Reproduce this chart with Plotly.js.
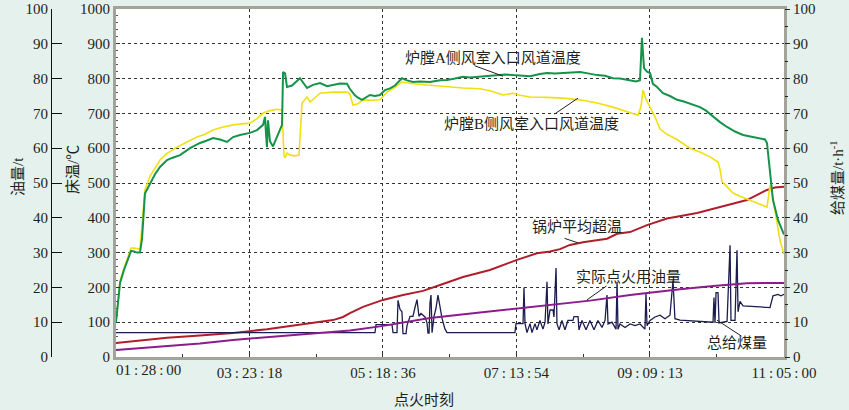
<!DOCTYPE html>
<html>
<head>
<meta charset="utf-8">
<script src="https://cdn.plot.ly/plotly-3.0.1.min.js"></script>
<style>
  html, body { margin: 0; padding: 0; background: #e4f1ed; }
  #chart { width: 849px; height: 410px; }
</style>
</head>
<body>
<div id="chart"></div>
<script>
// time axis: minutes elapsed since the first tick (01:28:00)
const tickLabels = ['01:28:00', '03:23:18', '05:18:36', '07:13:54', '09:09:13', '11:05:00'];

// 炉膛A侧风室入口风道温度 (°C)
const aTime = [0, 1.7, 3.5, 6.9, 10.4, 13.0, 15.5, 18.1, 20.7, 22.5, 25.0, 29.4, 33.7, 38.0, 44.1, 48.4,
    55.3, 63.9, 72.6, 78.6, 83.8, 89.8, 95.9, 101.1, 107.1, 115.7, 121.8, 127.0, 128.7, 129.6, 130.4,
    131.3, 133.0, 135.6, 139.1, 143.4, 144.3, 146.0, 147.7, 152.0, 158.9, 161.5, 165.0, 170.2, 176.2,
    182.3, 187.4, 193.5, 199.5, 202.1, 206.4, 209.0, 212.5, 215.9, 219.4, 223.7, 228.0, 232.4, 236.7,
    241.0, 247.0, 251.4, 256.5, 262.6, 271.2, 279.9, 285.9, 292.8, 299.7, 305.8, 314.4, 323.0, 329.1,
    336.0, 342.9, 349.0, 357.6, 366.2, 372.3, 379.2, 386.1, 392.1, 400.8, 407.7, 415.5, 422.4, 429.3,
    435.3, 444.0, 449.2, 452.6, 454.3, 456.1, 458.7, 461.3, 463.8, 467.3, 472.5, 478.5, 484.6, 489.8,
    495.8, 504.4, 509.6, 515.7, 521.7, 527.8, 534.7, 541.6, 549.4, 556.3, 560.6, 562.3, 564.9, 567.5,
    571.8, 577];
const aTemp = [100, 160, 213, 250, 280, 305, 303, 300, 300, 340, 470, 500, 525, 546, 566, 572,
    580, 600, 615, 622, 629, 625, 618, 632, 638, 644, 652, 667, 690, 640, 603,
    680, 620, 605, 635, 667, 819, 815, 776, 780, 801, 790, 773, 782, 787,
    778, 781, 786, 785, 770, 752, 745, 739, 745, 753, 750, 753, 767, 772,
    780, 801, 795, 790, 792, 790, 795, 796, 800, 805, 803, 805, 808, 810,
    812, 810, 808, 807, 813, 816, 815, 816, 818, 819, 815, 810, 808, 801,
    800, 796, 792, 795, 917, 830, 820, 816, 785, 776, 758, 750, 739, 735,
    728, 718, 708, 690, 675, 661, 648, 638, 633, 629, 625, 615, 537, 451,
    394, 352];

// 炉膛B侧风室入口风道温度 (°C)
const bTime = [0, 1.7, 3.5, 6.9, 10.4, 13.0, 15.5, 18.1, 20.7, 22.5, 25.0, 29.4, 33.7, 38.0, 44.1,
    52.7, 61.3, 70.0, 76.9, 83.8, 91.6, 101.1, 108.8, 115.7, 121.8, 127.0, 133.0, 139.1, 143.4,
    145.1, 146.0, 147.7, 150.3, 154.6, 158.1, 159.8, 160.7, 165.0, 167.6, 171.9, 176.2, 187.4, 199.5,
    202.1, 204.7, 209.0, 213.4, 221.1, 228.0, 234.1, 241.0, 247.0, 256.5, 271.2, 285.9, 299.7, 314.4,
    323.0, 334.3, 342.9, 349.0, 357.6, 372.3, 386.1, 400.8, 415.5, 429.3, 435.3, 444.0, 450.9, 453.5,
    455.2, 457.8, 461.3, 465.6, 469.9, 475.9, 484.6, 495.8, 504.4, 513.1, 520.0, 521.7, 523.4, 527.8,
    532.9, 539.0, 547.6, 556.3, 562.3, 564.0, 564.9, 566.6, 569.2, 571.8, 573.5, 577];
const bTemp = [100, 170, 220, 255, 290, 313, 313, 312, 310, 380, 480, 520, 545, 566, 585,
    603, 618, 632, 640, 652, 660, 667, 670, 672, 685, 701, 708, 712, 710,
    580, 572, 586, 580, 578, 580, 680, 730, 747, 733, 745, 758, 761, 761,
    755, 724, 728, 739, 738, 739, 761, 775, 790, 785, 781, 776, 773, 771,
    765, 753, 758, 752, 747, 746, 744, 739, 730, 718, 712, 704, 695, 720,
    767, 740, 718, 690, 655, 640, 625, 600, 589, 575, 560, 540, 505, 490,
    471, 462, 451, 440, 431, 470, 494, 470, 414, 370, 336, 295];

// 锅炉平均超温 (°C)
const heatTime = [0, 20.7, 44.1, 72.6, 101.1, 130.4, 158.9, 176.2, 187.4, 196.1, 202.1, 213.4, 230.6,
    247.9, 265.2, 279.9, 299.7, 323.0, 346.4, 363.6, 374.9, 383.5, 392.1, 403.4, 424.1, 432.8, 444.0,
    458.7, 475.9, 501.9, 521.7, 545.0, 562.3, 569.2, 577];
const heatTemp = [40, 47, 55, 62, 69, 80, 92, 100, 106, 115, 126, 144, 164,
    178, 190, 207, 230, 250, 279, 298, 303, 310, 322, 330, 340, 354, 359,
    379, 398, 414, 431, 451, 480, 487, 489];

// 实际点火用油量 (t)
const oilTime = [0, 29.4, 72.6, 101.1, 130.4, 158.9, 184.8, 202.1, 228.0, 271.2, 314.4, 357.6, 409.4,
    444.0, 458.7, 487.2, 515.7, 545.0, 577];
const oilAmount = [2.0, 2.8, 3.9, 4.9, 5.7, 6.4, 7.0, 7.6, 8.8, 11.2, 12.8, 14.4, 16.2,
    17.8, 18.4, 19.5, 20.4, 21.2, 21.3];

// 总给煤量 (t/h)
const coalTime = [0, 223.7, 224.6, 238.4, 239.3, 242.7, 243.6, 245.3, 247.0, 247.9, 250.5, 251.4, 254.0,
    256.5, 258.3, 260.0, 261.7, 263.4, 266.9, 268.6, 269.5, 270.4, 271.2, 272.1, 273.0, 274.7, 276.4,
    278.1, 279.9, 281.6, 284.2, 285.9, 344.6, 345.5, 351.6, 352.4, 353.3, 355.0, 357.6, 359.3, 361.9,
    363.6, 366.2, 368.8, 370.6, 372.3, 373.1, 374.9, 377.5, 378.3, 380.1, 380.9, 382.7, 385.2, 387.8,
    390.4, 394.7, 395.6, 399.1, 399.9, 402.5, 406.0, 409.4, 412.9, 416.3, 419.8, 422.4, 424.1, 425.0,
    428.4, 431.9, 432.8, 433.6, 435.3, 439.7, 444.0, 448.3, 452.6, 456.9, 457.8, 458.7, 461.3, 465.6,
    469.9, 474.2, 478.5, 481.1, 482.8, 487.2, 504.4, 515.7, 516.5, 517.4, 518.3, 520.0, 520.9, 527.8,
    530.4, 531.2, 534.7, 536.4, 537.3, 538.1, 539.0, 541.6, 556.3, 564.9, 567.5, 571.8, 574.4, 577];
const coalFeed = [7, 7, 9.3, 9.3, 7, 7, 16.3, 13.7, 13, 6.7, 6.7, 9.1, 11.7,
    11.7, 14.3, 16.5, 11.7, 12.5, 11.5, 9.9, 6.9, 6.9, 15.5, 17.8, 7, 11.7, 14,
    17.8, 14.4, 11.1, 8, 7, 7, 9.6, 9.6, 20, 9.6, 7, 9.6, 7, 9.6,
    7.8, 10.5, 8, 10, 21.6, 9.5, 13.5, 13.5, 11.5, 25.6, 9.5, 7.8, 10.5, 7.8,
    10.5, 10.5, 11.6, 11.6, 7.8, 10.5, 7.8, 10.5, 7.8, 10.5, 8.5, 10.5, 17.8, 9.5,
    10, 8, 21.6, 8, 9.5, 8.5, 9.5, 9, 9.5, 8, 18.3, 9, 10.5, 11.5,
    12, 11, 12, 22, 11, 10.6, 10.3, 10, 17.1, 9.8, 18.5, 18.5, 9.8, 10.2,
    32.1, 10.5, 10.5, 30.7, 13, 15.1, 16, 14.7, 14.5, 14.2, 17.6, 18, 17.6, 18];

function toMinutes(s) {
    const [h, m, sec] = s.split(':').map(Number);
    return h * 60 + m + sec / 60;
}
const t0 = toMinutes(tickLabels[0]);
const tickVals = tickLabels.map(s => toMinutes(s) - t0);
const minorVals = tickVals.slice(1).map((v, i) => (v + tickVals[i]) / 2);
const spaced = s => s.replace(/:/g, '\u2009:\u2009');

const FONT = '"Liberation Serif", "Noto Sans CJK SC", serif';
const INK = '#231f20';
const FRAME = '#a3a39b';

const traces = [
    {x: coalTime, y: coalFeed, yaxis: 'y2', mode: 'lines', line: {color: '#1c1c4e', width: 1.3}},
    {x: oilTime, y: oilAmount, yaxis: 'y3', mode: 'lines', line: {color: '#8c1c8c', width: 2}},
    {x: heatTime, y: heatTemp, mode: 'lines', line: {color: '#b01e2c', width: 2}},
    {x: bTime, y: bTemp, mode: 'lines', line: {color: '#f0e010', width: 1.6}},
    {x: aTime, y: aTemp, mode: 'lines', line: {color: '#14934a', width: 2}},
];

const lbl = (text, x, y, extra) => Object.assign({
    text: text, xref: 'paper', yref: 'paper', x: x, y: y, showarrow: false,
    xanchor: 'center', yanchor: 'middle',
    font: {family: FONT, size: 15, color: INK},
}, extra || {});
const lead = (yref, x, y, ax, ay) => ({
    text: '', xref: 'x', yref: yref, x: x, y: y, ax: ax, ay: ay,
    showarrow: true, arrowhead: 0, arrowwidth: 1, arrowcolor: INK, standoff: 0,
});

const annotations = [
    lbl('炉膛A侧风室入口风道温度', 493 / 849, 299 / 348),
    lbl('炉膛B侧风室入口风道温度', 531 / 849, 233 / 348),
    lbl('锅炉平均超温', 577 / 849, 130 / 348),
    lbl('实际点火用油量', 628 / 849, 80 / 348),
    lbl('总给煤量', 737 / 849, 14 / 348),
    lead('y', 334.3, 807, -30, -11),
    lead('y', 399.1, 744, -25, 17),
    lead('y', 399.1, 328, -15, -5),
    lead('y3', 406.8, 16.4, 21, -15),
    lead('y2', 519.1, 10.6, 26, 17),
    // axis titles
    lbl('油量/t', 18 / 849, 180 / 348, {textangle: -90}),
    lbl('床温/℃', 73 / 849, 187 / 348, {textangle: -90}),
    lbl('给煤量/t·h<sup>-1</sup>', 837 / 849, 179 / 348, {textangle: -90}),
    lbl('点火时刻', 424 / 849, -43 / 348),
    // first time label sits right of the axis start
    {text: spaced(tickLabels[0]), xref: 'x', yref: 'paper', x: 0, y: -13 / 348,
        xanchor: 'left', yanchor: 'middle', xshift: -2, showarrow: false,
        font: {family: FONT, size: 15, color: INK}},
];

const layout = {
    width: 849,
    height: 410,
    margin: {l: 0, r: 0, t: 9, b: 53},
    paper_bgcolor: '#e4f1ed',
    plot_bgcolor: '#ffffff',
    showlegend: false,
    font: {family: FONT, size: 15, color: INK},
    xaxis: {
        domain: [116 / 849, 784 / 849],
        range: [0, tickVals[tickVals.length - 1]],
        tickmode: 'array',
        tickvals: tickVals,
        ticktext: tickLabels.map((s, i) => i === 0 ? '' : spaced(s)),
        ticks: 'inside', ticklen: 4, tickcolor: '#333',
        minor: {tickmode: 'array', tickvals: minorVals, ticks: 'inside', ticklen: 3, tickcolor: '#333', showgrid: false},
        showline: true, mirror: true, linecolor: FRAME, linewidth: 3,
        showgrid: true, griddash: 'dot', gridcolor: '#333', gridwidth: 1,
        zeroline: false,
    },
    yaxis: {
        range: [0, 1000], dtick: 100,
        ticks: 'inside', ticklen: 4, tickcolor: '#333',
        minor: {dtick: 20, ticks: 'inside', ticklen: 2, tickcolor: '#555', showgrid: false},
        showline: true, mirror: true, linecolor: FRAME, linewidth: 3,
        showgrid: true, griddash: 'dot', gridcolor: '#333', gridwidth: 1,
        zeroline: false,
    },
    yaxis2: {
        overlaying: 'y', side: 'right', range: [0, 100], dtick: 10,
        ticks: 'outside', ticklen: 5, tickcolor: '#222',
        minor: {dtick: 5, ticks: 'outside', ticklen: 3, tickcolor: '#222', showgrid: false},
        showgrid: false, zeroline: false, showline: false,
    },
    yaxis3: {
        overlaying: 'y', anchor: 'free', position: 51 / 849, side: 'left',
        range: [0, 100], dtick: 10,
        ticks: 'inside', ticklen: 10, tickcolor: '#111',
        showline: true, linecolor: '#111', linewidth: 1,
        showgrid: false, zeroline: false,
    },
    annotations: annotations,
};

Plotly.newPlot('chart', traces, layout, {displayModeBar: false, staticPlot: true});
</script>
</body>
</html>
